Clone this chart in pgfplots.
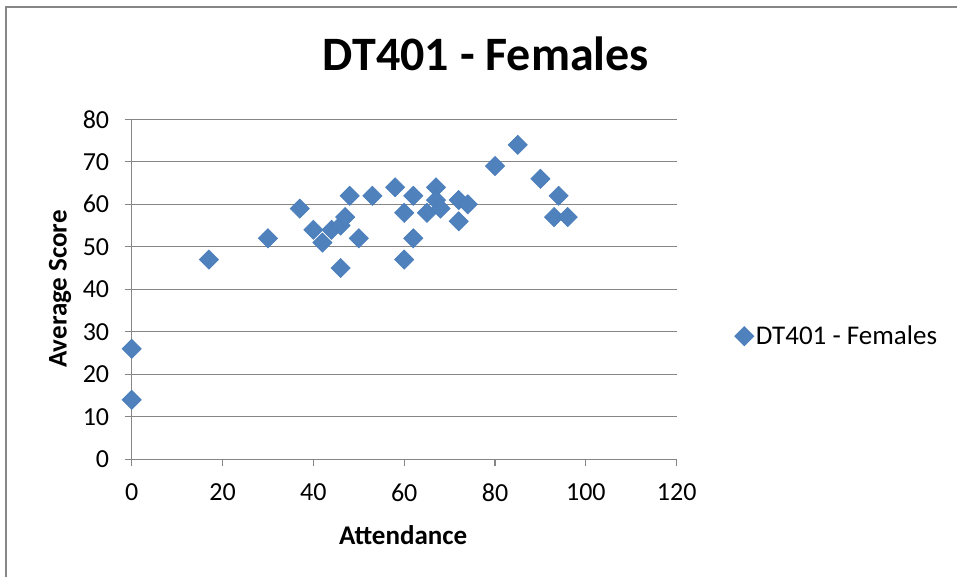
\documentclass[border=0pt]{standalone}
\usepackage{pgfplots}
\pgfplotsset{compat=1.18}
\usepackage{fontspec}
\setmainfont{Carlito}

\definecolor{gridgray}{RGB}{134,134,134}
\definecolor{markfill}{RGB}{79,129,189}
\definecolor{markedge}{RGB}{74,126,187}

\pgfplotstableread{
att score
0 26
0 14
17 47
30 52
37 59
40 54
42 51
44 54
46 55
46 45
47 57
48 62
50 52
53 62
58 64
60 58
60 47
62 62
62 52
65 58
67 64
67 61
68 59
72 61
72 56
74 60
80 69
85 74
90 66
93 57
94 62
96 57
}\femaledata

\begin{document}
\begin{tikzpicture}
% chart area frame and fixed page size
\useasboundingbox (-131.7pt,-117.7pt) rectangle (825.3pt,459.3pt);
\draw[gridgray, line width=1.5pt] (-125.7pt,-125pt) rectangle (830pt,452.3pt);
\begin{axis}[
  at={(0,0)}, anchor=south west,
  scale only axis,
  width=545pt, height=340pt,
  xmin=0, xmax=120, ymin=0, ymax=80,
  xtick={0,20,...,120}, ytick={0,10,...,80},
  axis lines*=left,
  axis line style={gridgray, line width=1.2pt},
  tick align=outside,
  major tick length=7pt,
  tick style={gridgray, line width=1.2pt},
  ymajorgrids,
  grid style={gridgray, line width=1.2pt},
  /pgf/number format/assume math mode=true,
  ticklabel style={font=\fontsize{26}{30}\selectfont},
  yticklabel style={xshift=-12pt},
  xticklabel style={yshift=-14pt},
  title={DT401 - Females},
  title style={at={(axis description cs:0.65,1)}, anchor=center, yshift=59pt,
    font=\fontsize{48}{56}\selectfont\bfseries},
  xlabel={Attendance},
  ylabel={Average Score},
  xlabel style={at={(axis description cs:0.498,-0.2226)}, anchor=center,
    font=\fontsize{27}{32}\selectfont\bfseries},
  ylabel style={at={(axis description cs:-0.1316,0.501)}, anchor=center, rotate=0,
    font=\fontsize{27}{32}\selectfont\bfseries},
  legend style={at={(axis description cs:1.106,0.362)}, anchor=west, draw=none,
    fill=none, font=\fontsize{27}{32}\selectfont, inner sep=0pt,
    /tikz/every even column/.append style={column sep=0pt}},
  legend cell align=left,
]
\addplot[only marks, mark=square*, mark size=6.8pt,
  mark options={rotate=45, fill=markfill, draw=markedge, line width=0.6pt}]
  table[x=att, y=score] {\femaledata};
\addlegendentry{DT401 - Females}
\end{axis}
\end{tikzpicture}
\end{document}
